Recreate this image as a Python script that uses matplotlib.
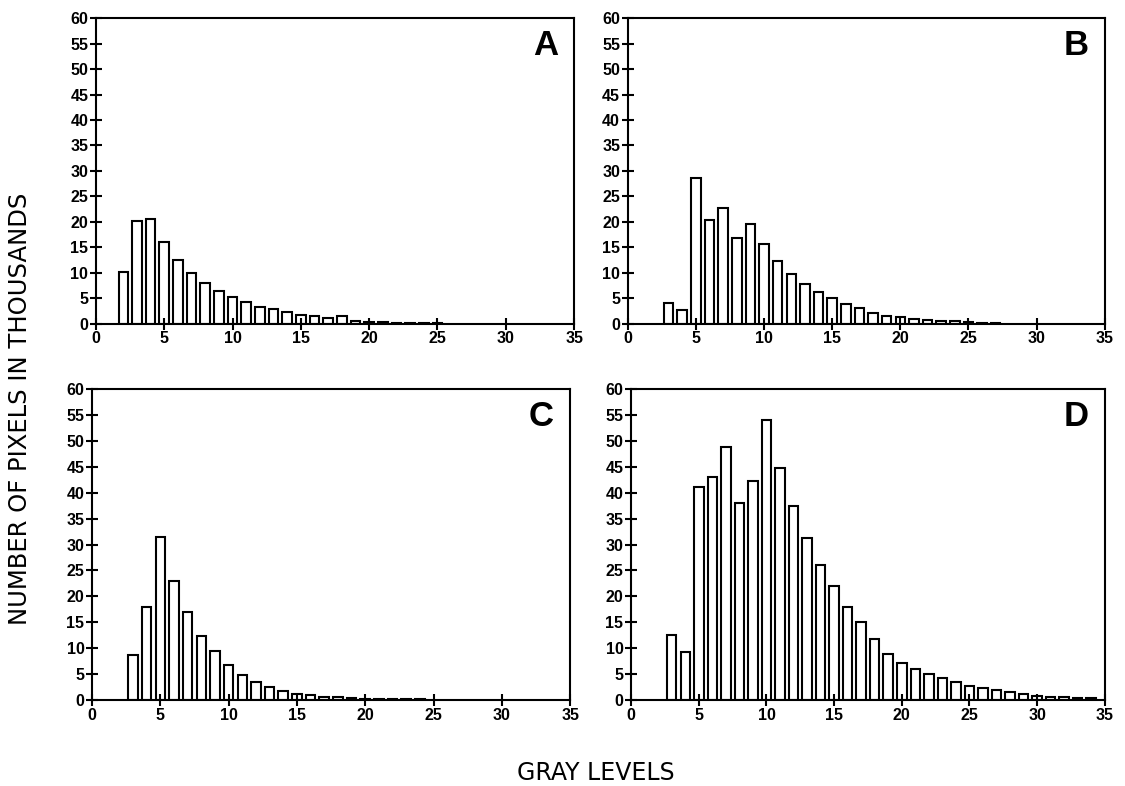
import numpy as np
import matplotlib.pyplot as plt

# --------------------------------------------------
# Histogram values (thousands of pixels per gray level)
# --------------------------------------------------
start_a = 2
counts_a = [10.1, 20.1, 20.5, 16.1, 12.6, 10.0, 8.0, 6.5, 5.3, 4.3, 3.4, 2.9,
            2.3, 1.8, 1.5, 1.2, 1.6, 0.6, 0.4, 0.3, 0.2, 0.2, 0.15, 0.1]

start_b = 3
counts_b = [4.0, 2.7, 28.6, 20.4, 22.8, 16.9, 19.5, 15.7, 12.4, 9.7, 7.9, 6.3,
            5.1, 3.9, 3.2, 2.2, 1.6, 1.3, 1.0, 0.8, 0.6, 0.5, 0.3, 0.2, 0.1]

start_c = 3
counts_c = [8.7, 18.0, 31.4, 23.0, 17.0, 12.4, 9.4, 6.7, 4.9, 3.5, 2.5, 1.8,
            1.1, 0.9, 0.6, 0.6, 0.3, 0.2, 0.15, 0.1, 0.1, 0.1]

start_d = 3
counts_d = [12.5, 9.3, 41.0, 43.1, 48.8, 38.0, 42.2, 54.0, 44.8, 37.4,
            31.3, 26.0, 22.0, 18.0, 15.0, 11.8, 8.8, 7.2, 6.0, 5.0,
            4.3, 3.5, 2.7, 2.3, 1.9, 1.5, 1.1, 0.8, 0.6, 0.5, 0.4, 0.3]

panel_letters = ["A", "B", "C", "D"]
x_ticks = [0, 5, 10, 15, 20, 25, 30, 35]
y_ticks = [0, 5, 10, 15, 20, 25, 30, 35, 40, 45, 50, 55, 60]


def main():
    fig = plt.figure(figsize=(11.25, 7.86), dpi=100)

    # axes rectangles [left, bottom, width, height] in figure fractions
    boxes = [
        [0.0853, 0.588, 0.425, 0.389],
        [0.558, 0.588, 0.424, 0.389],
        [0.0818, 0.1094, 0.425, 0.3957],
        [0.561, 0.1094, 0.421, 0.3957],
    ]
    data = [(start_a, counts_a), (start_b, counts_b),
            (start_c, counts_c), (start_d, counts_d)]

    tick_font = {"family": "Liberation Sans", "weight": "bold", "size": 11.5}

    for box, (start, counts), letter in zip(boxes, data, panel_letters):
        ax = fig.add_axes(box)
        levels = np.arange(start, start + len(counts))
        ax.bar(levels, counts, width=0.7, color="white",
               edgecolor="black", linewidth=1.5)

        ax.set_xlim(0, 35)
        ax.set_ylim(0, 60)
        ax.set_xticks(x_ticks)
        ax.set_yticks(y_ticks)
        ax.set_xticklabels([str(t) for t in x_ticks], fontdict=tick_font)
        ax.set_yticklabels([str(t) for t in y_ticks], fontdict=tick_font)
        ax.tick_params(direction="inout", length=8, width=1.5, pad=1.5,
                       top=False, right=False)
        for side in ax.spines.values():
            side.set_linewidth(1.5)

        ax.text(0.94, 0.91, letter, transform=ax.transAxes,
                ha="center", va="center", fontsize=25, fontweight="bold",
                family="Liberation Sans")

    # shared axis titles
    fig.text(0.018, 0.48, "NUMBER OF PIXELS IN THOUSANDS", rotation=90,
             ha="center", va="center", fontsize=17.5, family="DejaVu Sans")
    fig.text(0.53, 0.017, "GRAY LEVELS", ha="center", va="center",
             fontsize=17, family="DejaVu Sans")

    fig.savefig("out.png", dpi=100)


if __name__ == "__main__":
    main()
